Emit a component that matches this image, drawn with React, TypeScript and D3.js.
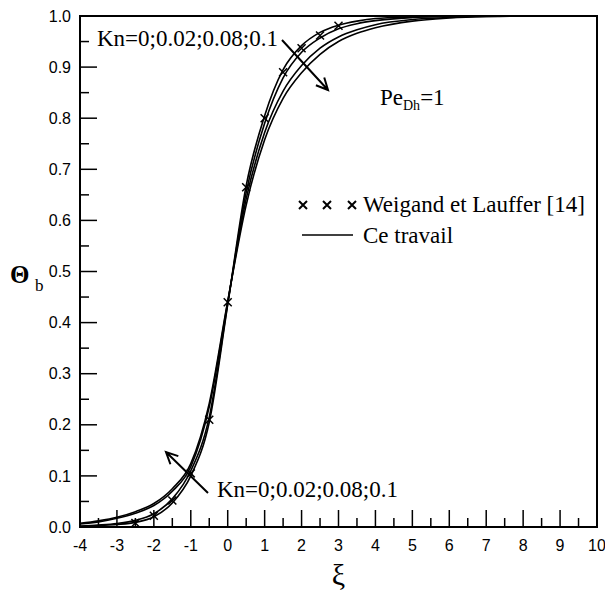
import React from 'react';
import * as d3 from 'd3';

// abscissa samples for the computed curves
const xiGrid = [-4, -3.5, -3, -2.5, -2, -1.5, -1, -0.5, 0, 0.5, 1, 1.5, 2, 2.5, 3, 3.5, 4, 5, 6, 7, 8, 9, 10];

// Ce travail, one series per Knudsen number
const thetaKn0 = [0.001, 0.003, 0.005, 0.009, 0.02, 0.047, 0.1, 0.205, 0.435, 0.668, 0.805, 0.895, 0.942, 0.968, 0.982, 0.99, 0.995, 0.998, 0.9995, 1, 1, 1, 1];
const thetaKn002 = [0.002, 0.004, 0.007, 0.013, 0.026, 0.055, 0.11, 0.215, 0.437, 0.655, 0.79, 0.879, 0.929, 0.957, 0.975, 0.985, 0.991, 0.997, 0.9992, 1, 1, 1, 1];
const thetaKn008 = [0.006, 0.01, 0.017, 0.027, 0.042, 0.07, 0.118, 0.235, 0.44, 0.642, 0.772, 0.853, 0.903, 0.937, 0.959, 0.973, 0.983, 0.993, 0.997, 0.999, 1, 1, 1];
const thetaKn01 = [0.007, 0.012, 0.019, 0.03, 0.046, 0.075, 0.124, 0.242, 0.442, 0.63, 0.758, 0.839, 0.889, 0.925, 0.95, 0.966, 0.977, 0.99, 0.996, 0.999, 1, 1, 1];

// Weigand et Lauffer [14]
const refXi = [-2.5, -2, -1.5, -1, -0.5, 0, 0.5, 1, 1.5, 2, 2.5, 3];
const refTheta = [0.008, 0.022, 0.052, 0.105, 0.21, 0.44, 0.665, 0.8, 0.89, 0.937, 0.962, 0.981];

const xTicks = d3.range(-4, 10.01, 1);
const yTicks = d3.range(0, 1.001, 0.1);

const W = 605;
const H = 596;
const m = { left: 80, right: 8, top: 16, bottom: 69 };

function cross(cx: number, cy: number, s: number) {
  return `M${cx - s},${cy - s}L${cx + s},${cy + s}M${cx - s},${cy + s}L${cx + s},${cy - s}`;
}

function arrow(x1: number, y1: number, x2: number, y2: number, len = 13) {
  const a = Math.atan2(y2 - y1, x2 - x1);
  const h1 = [x2 - len * Math.cos(a - 0.45), y2 - len * Math.sin(a - 0.45)];
  const h2 = [x2 - len * Math.cos(a + 0.45), y2 - len * Math.sin(a + 0.45)];
  return `M${x1},${y1}L${x2},${y2}M${h1[0]},${h1[1]}L${x2},${y2}L${h2[0]},${h2[1]}`;
}

export default function App() {
  const x = d3.scaleLinear().domain([-4, 10]).range([m.left, W - m.right]);
  const y = d3.scaleLinear().domain([0, 1]).range([H - m.bottom, m.top]);

  const line = d3.line<number>()
    .x((_, i) => x(xiGrid[i]))
    .y(d => y(d))
    .curve(d3.curveMonotoneX);

  const series = [thetaKn0, thetaKn002, thetaKn008, thetaKn01];
  const sans = "'Liberation Sans', Arial, sans-serif";
  const serif = "'Liberation Serif', 'Times New Roman', 'DejaVu Serif', serif";

  const x0 = x.range()[0], x1 = x.range()[1];
  const y0 = y.range()[0], y1 = y.range()[1];

  return (
    <svg width={W} height={H} style={{ position: 'absolute', left: 0, top: 0, background: '#fff' }}>
      <defs>
        <clipPath id="plot">
          <rect x={x0} y={y1} width={x1 - x0} height={y0 - y1} />
        </clipPath>
      </defs>

      {/* curves */}
      <g clipPath="url(#plot)" fill="none" stroke="#000" strokeWidth={1.6}>
        {series.map((s, i) => <path key={i} d={line(s) || ''} />)}
      </g>

      {/* reference markers */}
      <g stroke="#000" strokeWidth={1.5} fill="none">
        {refXi.map((v, i) => <path key={i} d={cross(x(v), y(refTheta[i]), 4)} />)}
      </g>

      {/* frame */}
      <rect x={x0} y={y1} width={x1 - x0} height={y0 - y1} fill="none" stroke="#000" strokeWidth={2} />

      {/* ticks, inward on left and bottom */}
      <g stroke="#000" strokeWidth={1.5}>
        {d3.range(-4, 10.01, 0.5).map((v, i) => (
          <line key={i} x1={x(v)} x2={x(v)} y1={y0} y2={y0 - (i % 2 === 0 ? 17 : 9)} />
        ))}
        {d3.range(0, 1.001, 0.05).map((v, i) => (
          <line key={'y' + i} x1={x0} x2={x0 + (i % 2 === 0 ? 17 : 9)} y1={y(v)} y2={y(v)} />
        ))}
      </g>
      <g style={{ fontFamily: sans }} fontSize={16} fill="#000">
        {xTicks.map(v => (
          <text key={v} x={x(v)} y={y0 + 24} textAnchor="middle">{v}</text>
        ))}
        {yTicks.map(v => (
          <text key={v} x={x0 - 9} y={y(v)} dy="0.35em" textAnchor="end">{v.toFixed(1)}</text>
        ))}
      </g>

      {/* axis titles */}
      <g style={{ fontFamily: serif }} fill="#000">
        <text x={x(3)} y={585} textAnchor="middle" fontSize={30}>ξ</text>
        <text x={10} y={283} fontSize={25} fontWeight="bold">Θ</text>
        <text x={35} y={291} fontSize={17}>b</text>
      </g>

      {/* annotations */}
      <g style={{ fontFamily: serif }} fontSize={23} fill="#000">
        <text x={97} y={46}>Kn=0;0.02;0.08;0.1</text>
        <text x={217} y={497}>Kn=0;0.02;0.08;0.1</text>
        <text x={380} y={105}>Pe<tspan fontSize={14} dy={5}>Dh</tspan><tspan dy={-5}>=1</tspan></text>
        <text x={363} y={212}>Weigand et Lauffer [14]</text>
        <text x={363} y={243}>Ce travail</text>
      </g>
      <g fill="none" stroke="#000" strokeWidth={2}>
        <path d={arrow(282, 40, 328, 90)} />
        <path d={arrow(208, 493, 166, 452)} />
        {[303, 327, 352].map(cx => <path key={cx} d={cross(cx, 205, 4)} />)}
        <line x1={302} x2={353} y1={235} y2={235} strokeWidth={1.5} />
      </g>
    </svg>
  );
}
